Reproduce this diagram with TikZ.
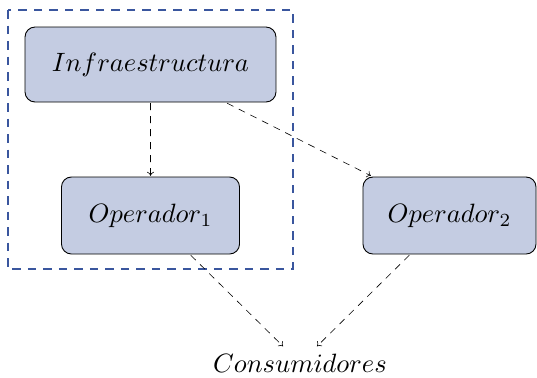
\documentclass[tikz,border=0pt]{standalone}
\usetikzlibrary{arrows.meta}
\definecolor{nodefill}{RGB}{196,204,226}
\definecolor{frameblue}{RGB}{58,86,158}
\begin{document}
\begin{tikzpicture}[x=0.377358pt,y=-0.377358pt,scale=2.65,
  every node/.style={transform shape},
  box/.style={draw=black, line width=0.9pt, fill=nodefill, rounded corners=10pt,
    inner sep=0pt},
  plain/.style={inner xsep=3.6pt, inner ysep=0pt},
  link/.style={draw, line width=0.6pt, dash pattern=on 7pt off 6pt,
    -{To[length=4pt,width=7pt]}},
  frame/.style={draw=frameblue, line width=2.2pt, dash pattern=on 8.5pt off 7pt}]
\useasboundingbox (0,0) rectangle (537,377);
\draw[frame] (8,10) rectangle (293,269);
\node[box, minimum width=94.7pt, minimum height=28.3pt] (infra) at (150.5,64.5) {$Infraestructura$};
\node[box, minimum width=67.2pt, minimum height=29.06pt] (op1) at (150.5,215.5) {$Operador_1$};
\node[box, minimum width=65.3pt, minimum height=29.06pt] (op2) at (449.5,215.5) {$Operador_2$};
\node[plain] (cons) at (300,363) {$Consumidores$};
\draw[link] (infra) -- (op1);
\draw[link] (infra) -- (op2);
\draw[link, shorten >=10pt] (op1) -- (cons);
\draw[link, shorten >=10pt] (op2) -- (cons);
\end{tikzpicture}
\end{document}
